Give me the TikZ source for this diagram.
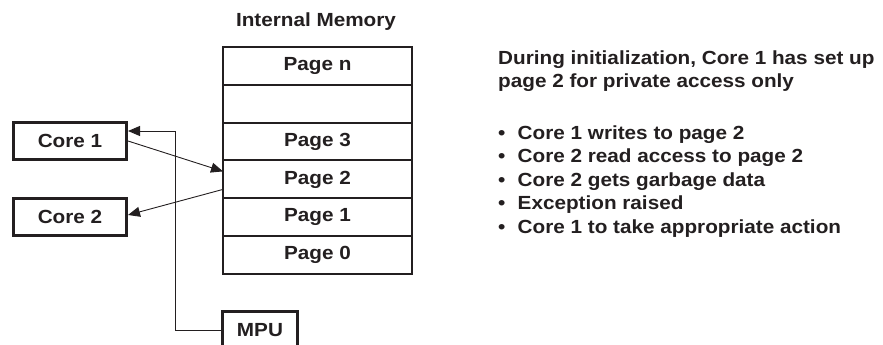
\documentclass[tikz,border=0pt]{standalone}
\usepackage{fontspec}
\setmainfont{Liberation Sans}[FakeStretch=1.09]
\usetikzlibrary{positioning,arrows.meta}
\definecolor{ink}{HTML}{231F20}
\tikzset{
  lbl/.style={font=\bfseries\fontsize{19}{22}\selectfont,text=ink},
  core/.style={lbl,draw=ink,line width=3pt,minimum width=113pt,minimum height=37pt,inner sep=0pt},
  page/.style={lbl,draw=ink,line width=2pt,minimum width=189pt,minimum height=37.83pt,outer sep=0pt,inner sep=0pt},
  note/.style={lbl,anchor=base west,inner sep=0pt},
  link/.style={draw=ink,line width=0.9pt,-{Triangle[length=12pt,width=10pt]}}
}
\begin{document}
\begin{tikzpicture}[x=1pt,y=-1pt]
\clip (0,0) rectangle (883,345);
\node[lbl,anchor=base,inner sep=0pt](title) at (316,26.7){Internal Memory};
\node[page](pn) at (317.5,65.9){Page n};
\node[page,below=0pt of pn](pdots){};
\node[page,below=0pt of pdots](p3){Page 3};
\node[page,below=0pt of p3](p2){Page 2};
\node[page,below=0pt of p2](p1){Page 1};
\node[page,below=0pt of p1](p0){Page 0};
\node[core](core1) at (70,141){Core 1};
\node[core](core2) at (70,217){Core 2};
\node[core,minimum width=75pt](mpu) at (260,330){MPU};
\draw[link](core1.east)--([yshift=8pt]p2.west);
\draw[link]([yshift=-10pt]p2.west)--([yshift=2pt]core2.east);
\draw[link](mpu.west)--++(-46,0)|-([yshift=10pt]core1.east);
\node[note](h1) at (498,64){During initialization, Core 1 has set up};
\node[note](h2) at (498,88){page 2 for private access only};
\node[note](b1) at (498,139.3){\makebox[19.5pt][l]{\textbullet}Core 1 writes to page 2};
\node[note](b2) at (498,162.8){\makebox[19.5pt][l]{\textbullet}Core 2 read access to page 2};
\node[note](b3) at (498,186.3){\makebox[19.5pt][l]{\textbullet}Core 2 gets garbage data};
\node[note](b4) at (498,209.8){\makebox[19.5pt][l]{\textbullet}Exception raised};
\node[note](b5) at (498,233.3){\makebox[19.5pt][l]{\textbullet}Core 1 to take appropriate action};
\end{tikzpicture}
\end{document}
